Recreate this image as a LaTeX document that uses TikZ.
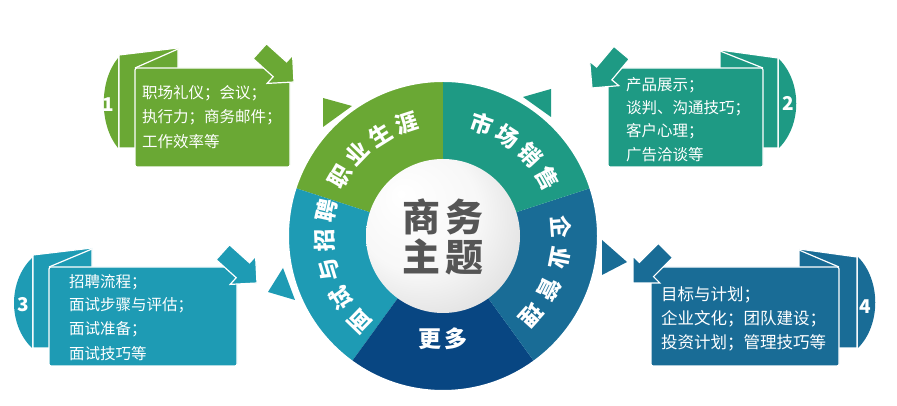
\documentclass[tikz,border=0pt]{standalone}
\usepackage{fontspec}
\setmainfont{Noto Sans CJK SC}
\usetikzlibrary{calc}
\definecolor{cgreen}{HTML}{6AA834}
\definecolor{cteal}{HTML}{1E9A84}
\definecolor{cblue}{HTML}{196C96}
\definecolor{cnavy}{HTML}{084682}
\definecolor{ccyan}{HTML}{1E9BB4}
\definecolor{cdark}{HTML}{555555}
\pgfdeclareradialshading{sphere}{\pgfpoint{-14bp}{14bp}}{color(0bp)=(white); color(20bp)=(white!97!black); color(40bp)=(white!84!black); color(50bp)=(white!58!black)}
\tikzset{
  segtext/.style={text=white,font=\fontsize{22.5}{22.5}\selectfont\bfseries,inner sep=0pt},
  itemtext/.style={text=white,font=\fontsize{15.5}{15.5}\selectfont,anchor=west,inner sep=0pt},
  numtext/.style={text=white,font=\fontsize{19}{19}\selectfont\bfseries,inner sep=0pt},
  whiteline/.style={draw=white,line width=1.2pt},
}
\newcommand{\fatarrow}[3]{\fill[#1,whiteline,shift={(#2)},rotate=#3] (0,0) -- (-19,19) -- (-19,10) -- (-46,10) -- (-46,-10) -- (-19,-10) -- (-19,-19) -- cycle;}
\begin{document}
\begin{tikzpicture}[x=1pt,y=1pt]
\useasboundingbox (0,0) rectangle (897,406);
\coordinate (C) at (443,170);
% small triangles behind the wheel
\fill[cgreen] (323,308) -- (352,300) -- (323,279) -- cycle;
\fill[cteal] (523,309) -- (551,317) -- (551,289) -- cycle;
\fill[cblue] (602,166) -- (627,144) -- (602,131) -- cycle;
\fill[ccyan] (283,138) -- (268,114) -- (295,106) -- cycle;
% wheel
\foreach \a/\b/\c in {90/162/cgreen,162/234/ccyan,234/306/cnavy,306/378/cblue,18/90/cteal}
  \fill[\c] (C) -- ++(\a:155) arc[start angle=\a,end angle=\b,radius=155] -- cycle;
\draw[white,line width=4pt] (C) circle[radius=156];
\shade[shading=sphere] (C) circle[radius=77];
\node[text=cdark,font=\fontsize{38}{38}\selectfont\bfseries,inner sep=0pt] (title1) at (443,189) {商\hspace{5pt}务};
\node[text=cdark,font=\fontsize{38}{38}\selectfont\bfseries,inner sep=0pt] (title2) at (443,149) {主\hspace{5pt}题};
% sector labels
\foreach \ch [count=\i] in {职,业,生,涯}
  {\pgfmathsetmacro\ang{150-14*(\i-1)}
   \node[segtext,rotate=\ang-90] (job\i) at ($(C)+(\ang:119)$) {\ch};}
\foreach \ch [count=\i] in {市,场,销,售}
  {\pgfmathsetmacro\ang{71-14*(\i-1)}
   \node[segtext,rotate=\ang-90] (mkt\i) at ($(C)+(\ang:119)$) {\ch};}
\foreach \ch [count=\i] in {企,业,管,理}
  {\pgfmathsetmacro\ang{4.5-15.5*(\i-1)}
   \node[segtext,rotate=\ang-90] (mgt\i) at ($(C)+(\ang:119)$) {\ch};}
\foreach \ch [count=\i] in {面,试,与,招,聘}
  {\pgfmathsetmacro\ang{226-14.6*(\i-1)}
   \node[segtext,rotate=\ang-90] (hire\i) at ($(C)+(\ang:119)$) {\ch};}
\node[segtext,font=\fontsize{23}{23}\selectfont\bfseries] (more) at (443,67) {更\hspace{4pt}多};
% box 1
\fill[cgreen] (118,348) .. controls (99,325) and (99,281) .. (118,258) -- cycle;
\fill[cgreen,whiteline] (119,351) -- (178,358) -- (178,258) -- (119,258) -- cycle;
\fill[cgreen,whiteline,rounded corners=2pt] (135,239) rectangle (290,338);
\draw[whiteline] (135,338) -- (178,357);
\fatarrow{cgreen}{294,324}{-42}
\node[numtext] (n1) at (108,301) {1};
\foreach \t [count=\i] in {职场礼仪；会议；,执行力；商务邮件；,工作效率等}
  \node[itemtext] (a\i) at (142,337.5-24.5*\i) {\t};
% box 2
\fill[cteal] (779,347) .. controls (802,324) and (802,281) .. (779,258) -- cycle;
\fill[cteal,whiteline] (778,348) -- (720,356) -- (720,258) -- (778,258) -- cycle;
\fill[cteal,whiteline,rounded corners=2pt] (608,239) rectangle (763,338);
\draw[whiteline] (763,338) -- (720,355);
\fatarrow{cteal}{592,318}{-130}
\node[numtext] (n2) at (788,303) {2};
\foreach \t [count=\i] in {产品展示；,谈判、沟通技巧；,客户心理；,广告洽谈等}
  \node[itemtext] (b\i) at (626,344.3-23.3*\i) {\t};
% box 3
\fill[ccyan] (32,148) .. controls (8,125) and (8,81) .. (32,58) -- cycle;
\fill[ccyan,whiteline] (33,151) -- (92,158) -- (92,58) -- (33,58) -- cycle;
\fill[ccyan,whiteline,rounded corners=2pt] (49,40) rectangle (237,139);
\draw[whiteline] (49,139) -- (92,157);
\fatarrow{ccyan}{257,123}{-42}
\node[numtext] (n3) at (23,101) {3};
\foreach \t [count=\i] in {招聘流程；,面试步骤与评估；,面试准备；,面试技巧等}
  \node[itemtext] (c\i) at (69,147.7-23.7*\i) {\t};
% box 4
\fill[cblue] (858,149) .. controls (881,126) and (881,81) .. (858,58) -- cycle;
\fill[cblue,whiteline] (857,149) -- (799,157) -- (799,58) -- (857,58) -- cycle;
\fill[cblue,whiteline,rounded corners=2pt] (651,40) rectangle (839,139);
\draw[whiteline] (839,139) -- (799,156);
\fatarrow{cblue}{633,123}{-135}
\node[numtext] (n4) at (865,99) {4};
\foreach \t [count=\i] in {目标与计划；,企业文化；团队建设；,投资计划；管理技巧等}
  \node[itemtext,font=\fontsize{16.5}{16.5}\selectfont] (d\i) at (661,135-24*\i) {\t};
\end{tikzpicture}
\end{document}
